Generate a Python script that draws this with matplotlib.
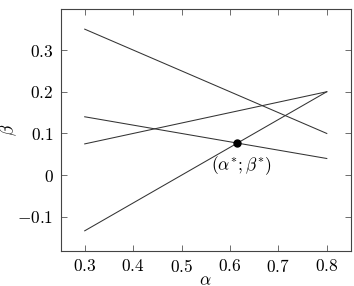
import matplotlib
matplotlib.use("Agg")
import matplotlib.pyplot as plt
import numpy as np

plt.rcParams['font.family'] = 'serif'
plt.rcParams['font.serif'] = ['cmr10', 'DejaVu Serif']
plt.rcParams['mathtext.fontset'] = 'cm'
plt.rcParams['axes.formatter.use_mathtext'] = True

# data
alpha = [0.3, 0.8]
line1 = [0.35, 0.10]
line2 = [0.14, 0.04]
line3 = [0.075, 0.20]
line4 = [-0.1333, 0.20]
alpha_star = [0.6154]
beta_star = [0.0769]
point_label = r'$(\alpha^{*};\beta^{*})$'

xticks = [0.3, 0.4, 0.5, 0.6, 0.7, 0.8]
xticklabels = ['$0.3$', '$0.4$', '$0.5$', '$0.6$', '$0.7$', '$0.8$']
yticks = [-0.1, 0.0, 0.1, 0.2, 0.3]
yticklabels = [r'$-0.1$', '$0$', '$0.1$', '$0.2$', '$0.3$']

W, H = 354, 286
fig = plt.figure(figsize=(W / 100, H / 100), dpi=100)
ax = fig.add_axes([60.5 / W, 1 - 251 / H, (351 - 60.5) / W, (251 - 9) / H])

for ys in (line1, line2, line3, line4):
    ax.plot(alpha, ys, color='#333333', lw=0.75)

ax.plot(alpha_star, beta_star, 'o', color='black', ms=5, zorder=5)
ax.annotate(point_label, (alpha_star[0], beta_star[0]), xytext=(2.5, -16),
            textcoords='offset points', ha='center', va='center', fontsize=12.5)

ax.set_xlim(0.25, 0.85)
ax.set_ylim(-0.1817, 0.3983)
ax.set_xticks(xticks)
ax.set_xticklabels(xticklabels)
ax.set_yticks(yticks)
ax.set_yticklabels(yticklabels)
ax.tick_params(direction='in', length=4.5, width=0.6, colors='#555555',
               labelcolor='black', labelsize=12.5, top=True, right=True, pad=5)
for s in ax.spines.values():
    s.set_linewidth(0.8)
    s.set_color('#444444')

ax.set_xlabel(r'$\alpha$', fontsize=12.5)
ax.set_ylabel(r'$\beta$', fontsize=12.5)
ax.xaxis.set_label_coords(0.5, (251 - 273) / 242)
ax.yaxis.set_label_coords((19 - 60.5) / 290.5, 0.5)

fig.savefig('out.png', dpi=100)
